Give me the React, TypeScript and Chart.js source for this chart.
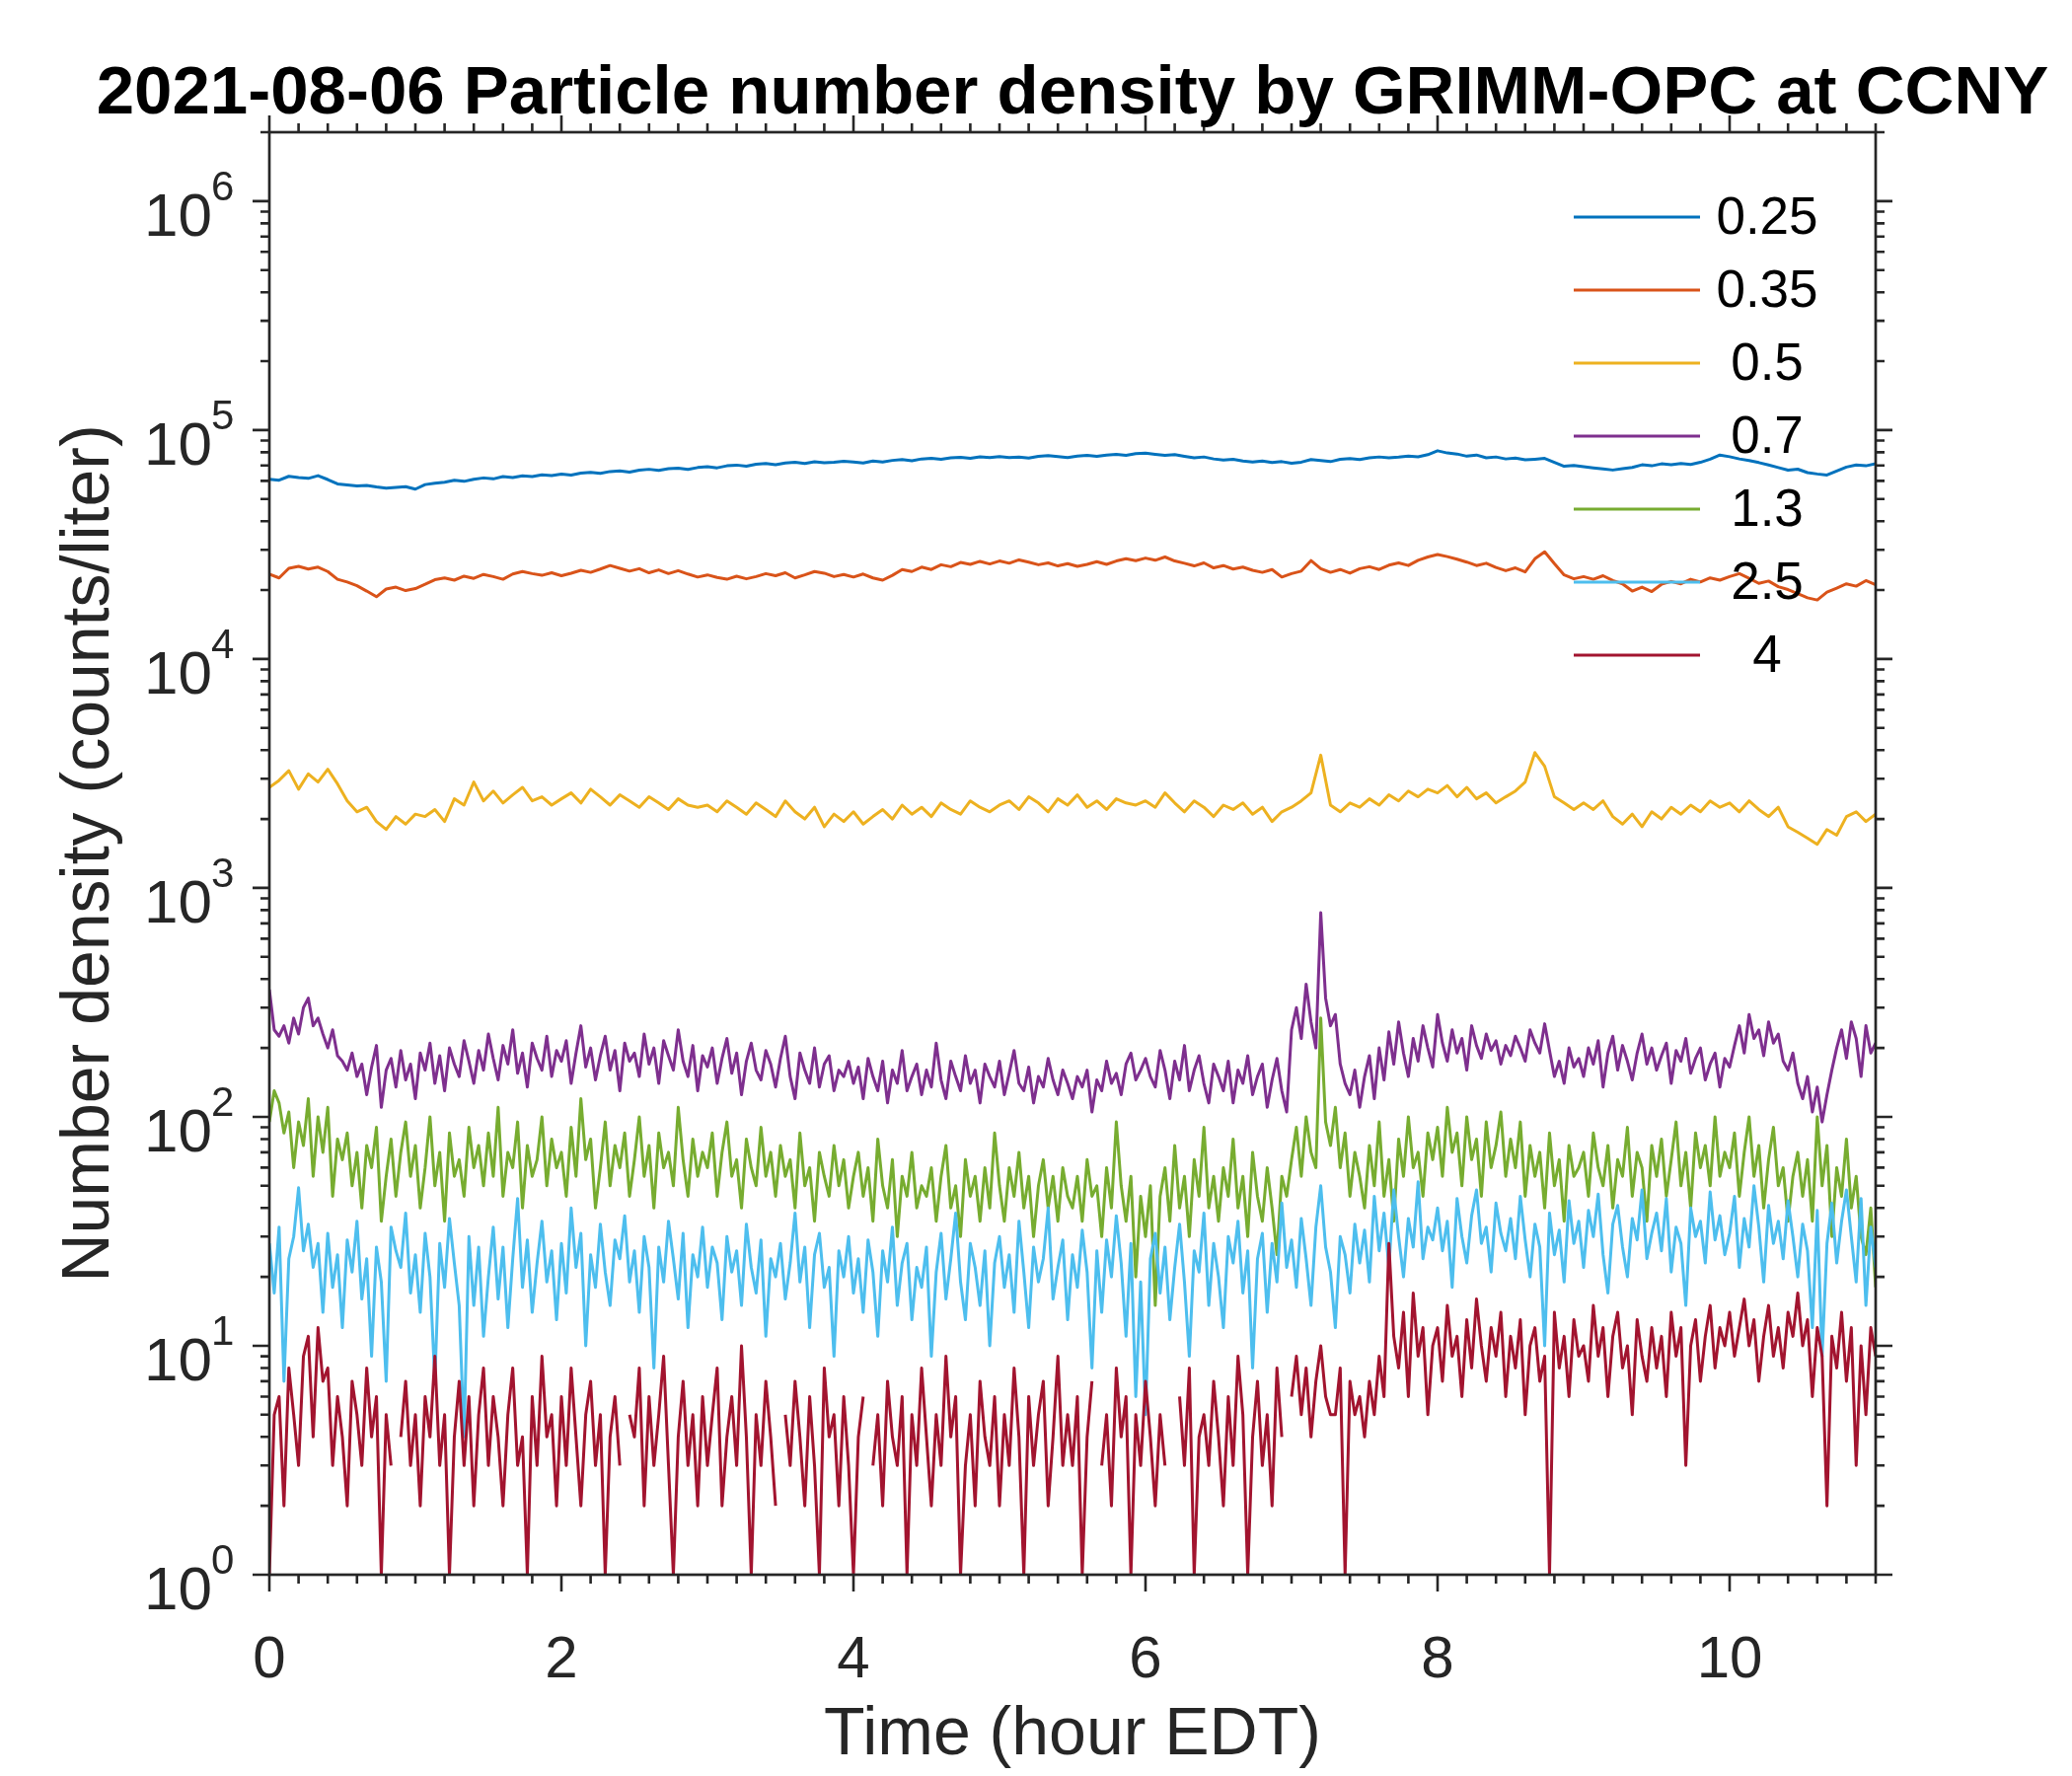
import { useEffect, useRef } from "react";
import { Chart, registerables } from "chart.js";

Chart.register(...registerables);

// particle size channels (µm) and MATLAB default line colours
const SIZE_LABELS = ["0.25", "0.35", "0.5", "0.7", "1.3", "2.5", "4"];
const COLORS = ["#0072BD", "#D95319", "#EDB120", "#7E2F8E", "#77AC30", "#4DBEEE", "#A2142F"];

const X_TICKS = [0, 2, 4, 6, 8, 10];
const Y_DECADES = [0, 1, 2, 3, 4, 5, 6];

const TITLE = "2021-08-06 Particle number density by GRIMM-OPC at CCNY";
const X_TITLE = "Time (hour EDT)";
const Y_TITLE = "Number density (counts/liter)";

// 0.25 um, one value per 4 min (counts/liter)
const N0_25 = [
  61000, 60400, 62800, 62000, 61500, 63200, 60800, 58200, 57600, 57000, 57300, 56400, 55800, 56200, 56600,
  55200, 57800, 58600, 59200, 60300, 59700, 61000, 61800, 61200, 62600, 62000, 63100, 62700, 63800, 63300,
  64200, 63600, 64800, 65400, 64700, 65900, 66300, 65500, 66800, 67400, 66600, 67800, 68200, 67300, 68600,
  69200, 68400, 69800, 70300, 69500, 70900, 71400, 70600, 71800, 72300, 71500, 72700, 71900, 72400, 73100,
  72600, 71800, 73200, 72500, 73700, 74300, 73400, 74800, 75300, 74500, 75600, 76100, 75200, 76400, 75800,
  76600, 75900, 76200, 75400, 76800, 77300, 76500, 75800, 76900, 77500, 76700, 77800, 78300, 77600, 78900,
  79300, 78400, 77600, 78100, 76800, 75600, 76300, 74800, 73900, 74500, 73200, 72600, 73300, 72100, 72800,
  71600, 72400, 74300, 73600, 72800, 74500, 75100, 74400, 75600, 76300, 75700, 76200, 77000, 76400, 78100,
  81200, 79400, 78600, 76900, 77800, 75600, 76300, 74800, 75500, 74100, 74600, 75200, 72300, 69500, 70100,
  69200, 68400, 67600, 66900, 67800, 68700, 70500, 69800, 71200, 70600, 71500, 70800, 72300, 74600, 77800,
  76500, 74800, 73600, 72100, 70400, 68600, 66800, 67500, 65200, 64300, 63600, 66200, 68900, 70400, 69800,
  71300,
];

// 0.35 um, one value per 4 min
const N0_35 = [
  23500, 22600, 24900, 25400, 24700, 25200, 24100, 22300, 21700, 20900, 19800, 18700, 20200, 20600, 19900,
  20300, 21200, 22200, 22600, 22100, 23000, 22500, 23400, 22900, 22300, 23500, 24100, 23600, 23200, 23800,
  23100, 23700, 24400, 23900, 24700, 25600, 24900, 24200, 24800, 23800, 24500, 23600, 24300, 23500, 22800,
  23300, 22700, 22300, 23000, 22400, 22900, 23600, 23100, 23800, 22600, 23300, 24100, 23700, 22900, 23400,
  22800, 23500, 22600, 22100, 23200, 24600, 24100, 25200, 24600, 25800, 25300, 26400, 25900, 26700, 26000,
  26800, 26200, 27100, 26500, 25800, 26300, 25500, 26100, 25400, 25900, 26600, 25900, 26800, 27400, 26900,
  27600, 27000, 27900, 26800, 26200, 25500, 26300, 25000, 25600, 24700, 25200, 24400, 23900, 24600, 22800,
  23600, 24200, 26900, 24800, 23900, 24600, 23700, 24800, 25300, 24600, 25700, 26300, 25600, 27000, 27900,
  28600, 28000, 27300, 26500, 25600, 26200, 25100, 24300, 25000, 24000, 27400, 29400, 26100, 23300, 22400,
  22900, 22300, 23100, 22000, 21300, 19800, 20600, 19700, 21200, 21800, 21300, 22300, 21700, 22600, 22100,
  22900, 23600, 22500, 21400, 21900, 20700, 20100, 19300, 18500, 18100, 19600, 20400, 21300, 20800, 22000,
  21100,
];

// 0.5 um, one value per 4 min
const N0_5 = [
  2750, 2950, 3250, 2700, 3150, 2900, 3300, 2850, 2400, 2150, 2250, 1950, 1800, 2050, 1900,
  2100, 2050, 2200, 1950, 2450, 2300, 2900, 2400, 2650, 2350, 2550, 2750, 2400, 2500, 2300,
  2450, 2600, 2350, 2700, 2500, 2300, 2550, 2400, 2250, 2500, 2350, 2200, 2450, 2300, 2250,
  2300, 2150, 2400, 2250, 2100, 2350, 2200, 2050, 2400, 2150, 2000, 2250, 1850, 2100, 1950,
  2150, 1900, 2050, 2200, 2000, 2300, 2100, 2250, 2050, 2350, 2200, 2100, 2400, 2250, 2150,
  2300, 2400, 2200, 2500, 2350, 2150, 2450, 2300, 2550, 2250, 2400, 2200, 2450, 2350, 2300,
  2400, 2250, 2600, 2350, 2150, 2400, 2250, 2050, 2300, 2200, 2350, 2100, 2250, 1950, 2150,
  2250, 2400, 2600, 3800, 2300, 2150, 2350, 2250, 2450, 2300, 2550, 2400, 2650, 2500, 2700,
  2600, 2800, 2500, 2750, 2450, 2600, 2350, 2500, 2650, 2900, 3900, 3400, 2500, 2350, 2200,
  2350, 2200, 2400, 2050, 1900, 2100, 1850, 2150, 2000, 2250, 2100, 2300, 2150, 2400, 2250,
  2350, 2150, 2400, 2200, 2050, 2250, 1850, 1750, 1650, 1550, 1800, 1700, 2050, 2150, 1950,
  2100,
];

// 0.7 um, one value per 2 min
const N0_7 = [
  360, 240, 225, 250, 210, 270, 230, 300, 330, 250, 270, 230, 200, 240, 185,
  175, 160, 190, 150, 170, 125, 165, 205, 110, 160, 180, 135, 195, 145, 170,
  120, 190, 160, 210, 140, 185, 130, 200, 170, 150, 215, 175, 140, 195, 160,
  230, 180, 145, 205, 170, 240, 155, 190, 135, 210, 180, 160, 225, 150, 195,
  175, 215, 140, 190, 250, 165, 200, 145, 185, 225, 160, 195, 130, 210, 175,
  190, 150, 230, 170, 200, 140, 215, 185, 160, 240, 175, 150, 205, 130, 185,
  165, 200, 140, 180, 220, 155, 190, 125, 175, 210, 160, 145, 195, 170, 135,
  180, 225, 150, 120, 190, 160, 140, 200, 135, 170, 185, 130, 160, 150, 175,
  140, 165, 120, 180, 150, 130, 175, 115, 160, 140, 195, 130, 150, 170, 125,
  160, 135, 210, 145, 120, 175, 150, 130, 185, 140, 160, 115, 170, 150, 135,
  175, 125, 155, 195, 140, 130, 165, 115, 150, 135, 180, 145, 125, 160, 140,
  120, 150, 135, 160, 105, 145, 130, 175, 140, 155, 125, 170, 190, 145, 160,
  180, 150, 135, 195, 160, 120, 175, 145, 205, 130, 160, 185, 140, 115, 170,
  150, 130, 175, 115, 160, 140, 185, 125, 150, 170, 110, 145, 180, 130, 105,
  240, 300, 220, 380, 260, 200, 780, 330, 250, 280, 170, 140, 125, 160, 110,
  150, 185, 120, 200, 145, 235, 170, 260, 190, 150, 220, 175, 250, 200, 165,
  280, 210, 175, 240, 190, 220, 160, 250, 205, 180, 230, 195, 215, 170, 205,
  185, 225, 200, 175, 240, 210, 190, 255, 195, 150, 175, 140, 200, 165, 180,
  150, 200, 170, 215, 135, 190, 225, 160, 205, 175, 145, 190, 230, 170, 200,
  160, 185, 210, 140, 195, 175, 220, 155, 180, 200, 145, 170, 190, 135, 180,
  165, 205, 250, 190, 280, 220, 240, 185, 260, 210, 230, 175, 160, 190, 140,
  120, 150, 105, 135, 95, 125, 160, 200, 240, 180, 260, 220, 150, 250, 190,
  210,
];

// 1.3 um, one value per 2 min
const N1_3 = [
  95, 130, 115, 85, 105, 60, 95, 75, 120, 55, 100, 70, 110, 45, 80,
  65, 85, 50, 70, 40, 75, 60, 90, 35, 55, 80, 45, 70, 95, 55,
  75, 40, 60, 100, 50, 70, 35, 85, 55, 65, 45, 90, 60, 75, 50,
  85, 55, 110, 45, 70, 60, 95, 40, 75, 55, 65, 100, 50, 80, 60,
  70, 45, 90, 55, 120, 65, 80, 40, 60, 95, 50, 75, 60, 85, 45,
  65, 100, 55, 75, 40, 85, 60, 70, 50, 110, 65, 45, 80, 55, 70,
  60, 85, 45, 70, 95, 55, 65, 40, 80, 60, 50, 90, 55, 70, 45,
  75, 55, 65, 40, 85, 50, 60, 35, 70, 55, 45, 75, 50, 65, 40,
  55, 70, 45, 60, 35, 80, 50, 40, 65, 30, 55, 45, 70, 40, 50,
  45, 60, 35, 55, 75, 40, 50, 30, 65, 45, 55, 35, 60, 40, 85,
  50, 35, 60, 45, 70, 40, 55, 30, 50, 65, 40, 55, 35, 60, 45,
  40, 55, 35, 65, 45, 50, 30, 60, 40, 95, 50, 35, 55, 20, 45,
  30, 50, 15, 45, 60, 35, 75, 40, 55, 30, 65, 45, 90, 40, 55,
  35, 60, 45, 80, 40, 55, 30, 70, 45, 35, 60, 40, 25, 55, 45,
  65, 90, 55, 100, 70, 60, 270, 95, 75, 110, 60, 85, 45, 70, 55,
  40, 75, 50, 95, 45, 65, 35, 80, 55, 100, 60, 70, 45, 85, 65,
  90, 55, 110, 70, 85, 50, 100, 65, 80, 45, 95, 60, 75, 105, 55,
  80, 60, 95, 45, 75, 55, 70, 40, 85, 50, 65, 35, 75, 55, 60,
  70, 45, 85, 60, 50, 75, 40, 65, 55, 90, 45, 70, 60, 35, 75,
  55, 80, 45, 65, 95, 50, 70, 40, 85, 60, 75, 50, 100, 55, 70,
  60, 85, 45, 70, 100, 55, 75, 40, 65, 90, 50, 60, 35, 55, 70,
  45, 65, 35, 100, 50, 75, 30, 60, 45, 80, 40, 55, 30, 25, 40,
  18,
];

// 2.5 um, one value per 2 min
const N2_5 = [
  28, 17, 33, 7, 24, 30, 49, 26, 34, 22, 28, 14, 31, 18, 25,
  12, 29, 21, 35, 16, 24, 9, 27, 19, 7, 33, 26, 22, 38, 17,
  25, 14, 31, 20, 7, 28, 18, 36, 23, 15, 4, 30, 15, 27, 11,
  20, 33, 16, 27, 12, 24, 44, 18, 29, 14, 23, 35, 19, 26, 13,
  28, 17, 40, 22, 31, 10, 25, 18, 34, 21, 15, 29, 24, 37, 19,
  26, 14, 30, 22, 8, 27, 19, 35, 24, 16, 31, 12, 25, 20, 33,
  18, 27, 23, 13, 30, 21, 26, 15, 34, 22, 17, 29, 11, 24, 20,
  28, 16, 23, 38, 19, 27, 12, 25, 31, 18, 22, 9, 26, 20, 30,
  17, 24, 14, 29, 21, 11, 26, 19, 33, 15, 23, 28, 13, 22, 18,
  27, 9, 21, 31, 16, 24, 38, 19, 13, 28, 22, 15, 26, 10, 23,
  30, 18, 25, 14, 35, 21, 12, 27, 19, 24, 40, 16, 22, 29, 13,
  25, 18, 32, 21, 8, 26, 14, 29, 20, 37, 23, 11, 28, 6, 19,
  5, 24, 31, 17, 27, 13, 22, 34, 19, 9, 26, 21, 38, 15, 28,
  20, 12, 30, 23, 35, 17, 26, 8, 24, 31, 14, 28, 19, 42, 22,
  29, 18, 36, 24, 15, 33, 50, 27, 21, 12, 30, 25, 17, 34, 23,
  32, 19, 45, 26, 38, 22, 48, 30, 20, 36, 27, 52, 24, 33, 29,
  40, 26, 35, 18, 44, 30, 23, 37, 48, 28, 33, 21, 42, 31, 26,
  36, 24, 45, 29, 20, 34, 27, 10, 38, 25, 32, 19, 43, 28, 35,
  22, 39, 30, 46, 25, 17, 34, 41, 27, 20, 36, 29, 48, 24, 31,
  38, 26, 44, 21, 33, 28, 15, 40, 30, 35, 23, 47, 29, 37, 25,
  31, 45, 22, 36, 27, 50, 33, 19, 41, 28, 35, 24, 43, 30, 20,
  34, 26, 12, 39, 9, 28, 42, 23, 35, 48, 30, 19, 44, 15, 33,
  22,
];

// 4 um, one value per 2 min (null = zero count, not drawn on log axis)
const N4 = [
  1, 5, 6, 2, 8, 5, 3, 9, 11, 4, 12, 7, 8, 3, 6,
  4, 2, 7, 5, 3, 8, 4, 6, 1, 5, 3, null, 4, 7, 3,
  5, 2, 6, 4, 9, 3, 5, 1, 4, 7, 3, 6, 2, 5, 8,
  3, 6, 4, 2, 5, 8, 3, 4, 1, 6, 3, 9, 4, 5, 2,
  6, 3, 8, 4, 2, 5, 7, 3, 5, 1, 4, 6, 3, null, 5,
  4, 8, 2, 6, 3, 5, 9, 3, 1, 4, 7, 3, 5, 2, 6,
  3, 5, 8, 2, 4, 6, 3, 10, 4, 1, 5, 3, 7, 4, 2,
  null, 5, 3, 7, 4, 2, 6, 3, 1, 8, 4, 5, 2, 6, 3,
  1, 4, 6, null, 3, 5, 2, 7, 4, 3, 6, 1, 5, 3, 8,
  4, 2, 5, 3, 9, 4, 6, 1, 3, 5, 2, 7, 4, 3, 6,
  2, 5, 3, 8, 4, 1, 6, 3, 5, 7, 2, 4, 9, 3, 5,
  3, 6, 1, 4, 7, null, 3, 5, 2, 8, 4, 6, 1, 5, 3,
  7, 4, 2, 5, 3, null, null, 6, 3, 8, 1, 4, 5, 3, 7,
  4, 2, 6, 3, 9, 5, 1, 4, 7, 3, 5, 2, 8, 4, null,
  6, 9, 5, 8, 4, 7, 10, 6, 5, 5, 8, 1, 7, 5, 6,
  4, 7, 5, 9, 6, 28, 11, 8, 14, 6, 17, 9, 12, 5, 10,
  12, 7, 15, 9, 11, 6, 13, 8, 16, 10, 7, 12, 9, 14, 6,
  11, 8, 13, 5, 10, 12, 7, 9, 1, 14, 8, 11, 6, 13, 9,
  10, 7, 15, 9, 12, 6, 11, 14, 8, 10, 5, 13, 9, 7, 12,
  8, 11, 6, 14, 9, 12, 3, 10, 13, 7, 11, 15, 8, 12, 10,
  14, 9, 12, 16, 10, 13, 7, 11, 15, 9, 12, 8, 14, 11, 17,
  10, 13, 6, 12, 9, 2, 11, 8, 14, 7, 12, 3, 10, 5, 12,
  9,
];

const SERIES = [N0_25, N0_35, N0_5, N0_7, N1_3, N2_5, N4];

const HOURS_SPAN = 11;
const AXIS_COLOR = "#262626";
const FONT = "'Liberation Sans', Arial, Helvetica, sans-serif";

// sample times in hours, evenly spread over the record
const hoursFor = (vals: (number | null)[]) =>
  vals.map((_, i) => (i * HOURS_SPAN) / (vals.length - 1));

const framePlugin = {
  id: "matlabFrame",
  afterDraw(chart: any) {
    const { ctx, chartArea: a, scales } = chart;
    const xs = scales.x;
    const ys = scales.y;
    ctx.save();

    // axes box
    ctx.strokeStyle = AXIS_COLOR;
    ctx.lineWidth = 2.7;
    ctx.strokeRect(a.left, a.top, a.right - a.left, a.bottom - a.top);

    // x ticks (outward, every 0.2 h, major every 2 h)
    ctx.lineWidth = 2.6;
    ctx.beginPath();
    for (let k = 0; k <= HOURS_SPAN * 5; k++) {
      const px = xs.getPixelForValue(k / 5);
      const len = k % 10 === 0 ? 17 : 9;
      ctx.moveTo(px, a.bottom);
      ctx.lineTo(px, a.bottom + len);
      ctx.moveTo(px, a.top);
      ctx.lineTo(px, a.top - len);
    }
    // y ticks (outward, log minor)
    for (const d of Y_DECADES) {
      for (let m = 1; m <= 9; m++) {
        const v = m * Math.pow(10, d);
        if (v > ys.max) break;
        const py = ys.getPixelForValue(v);
        const len = m === 1 ? 17 : 9;
        ctx.moveTo(a.left - len, py);
        ctx.lineTo(a.left, py);
        ctx.moveTo(a.right, py);
        ctx.lineTo(a.right + len, py);
      }
    }
    ctx.stroke();

    // y tick labels 10^n
    ctx.fillStyle = AXIS_COLOR;
    ctx.textBaseline = "alphabetic";
    for (const d of Y_DECADES) {
      const py = ys.getPixelForValue(Math.pow(10, d));
      ctx.font = `62px ${FONT}`;
      ctx.textAlign = "right";
      ctx.fillText("10", a.left - 58, py + 35);
      ctx.font = `42px ${FONT}`;
      ctx.textAlign = "left";
      ctx.fillText(String(d), a.left - 59, py - 1);
    }

    // legend, no box
    ctx.lineWidth = 3;
    ctx.font = `53px ${FONT}`;
    ctx.textAlign = "center";
    ctx.textBaseline = "middle";
    SIZE_LABELS.forEach((label, i) => {
      const ly = 220 + 74 * i;
      ctx.strokeStyle = COLORS[i];
      ctx.beginPath();
      ctx.moveTo(1595, ly);
      ctx.lineTo(1723, ly);
      ctx.stroke();
      ctx.fillStyle = "#000";
      ctx.fillText(label, 1791, ly + 2);
    });

    // title
    ctx.fillStyle = "#000";
    ctx.font = `bold 69px ${FONT}`;
    ctx.textAlign = "center";
    ctx.textBaseline = "alphabetic";
    ctx.fillText(TITLE, (a.left + a.right) / 2, 115);

    ctx.restore();
  },
};

const App = () => {
  const canvasRef = useRef<HTMLCanvasElement>(null);
  const chartRef = useRef<Chart | null>(null);

  useEffect(() => {
    if (!canvasRef.current) return;
    if (chartRef.current) chartRef.current.destroy();

    const datasets = SERIES.map((vals, i) => {
      const t = hoursFor(vals);
      return {
        label: SIZE_LABELS[i],
        data: vals.map((v, j) => ({ x: t[j], y: v })),
        borderColor: COLORS[i],
        backgroundColor: COLORS[i],
        borderWidth: 3,
        pointRadius: 0,
        tension: 0,
        borderJoinStyle: "round" as const,
        spanGaps: false,
        order: SERIES.length - 1 - i,
      };
    });

    chartRef.current = new Chart(canvasRef.current, {
      type: "line",
      data: { datasets: datasets as any },
      options: {
        animation: false,
        responsive: false,
        devicePixelRatio: 1,
        layout: { padding: { top: 134, right: 199, left: 0, bottom: 0 } },
        plugins: {
          legend: { display: false },
          title: { display: false },
          tooltip: { enabled: false },
        },
        scales: {
          x: {
            type: "linear",
            min: 0,
            max: HOURS_SPAN,
            grid: { display: false },
            border: { display: false },
            ticks: {
              stepSize: 2,
              includeBounds: false,
              padding: 43,
              maxRotation: 0,
              color: AXIS_COLOR,
              font: { family: FONT, size: 60 },
              callback: (v: any) => (X_TICKS.includes(Number(v)) ? String(v) : ""),
            },
            title: {
              display: true,
              text: X_TITLE,
              color: AXIS_COLOR,
              font: { family: FONT, size: 68 },
              padding: 0,
            },
            afterFit: (s: any) => {
              s.height = 204;
            },
          },
          y: {
            type: "logarithmic",
            min: 1,
            max: 2e6,
            grid: { display: false },
            border: { display: false },
            ticks: { display: false },
            title: {
              display: true,
              text: Y_TITLE,
              color: AXIS_COLOR,
              font: { family: FONT, size: 68 },
              padding: { top: 50, bottom: 0 },
            },
            afterFit: (s: any) => {
              s.width = 273;
            },
          },
        },
      },
      plugins: [framePlugin],
    });

    return () => {
      if (chartRef.current) {
        chartRef.current.destroy();
        chartRef.current = null;
      }
    };
  }, []);

  return (
    <div style={{ position: "absolute", left: 0, top: 0, width: 2100, height: 1800, background: "#fff" }}>
      <canvas ref={canvasRef} width={2100} height={1800} style={{ width: 2100, height: 1800 }} />
    </div>
  );
};

export default App;
